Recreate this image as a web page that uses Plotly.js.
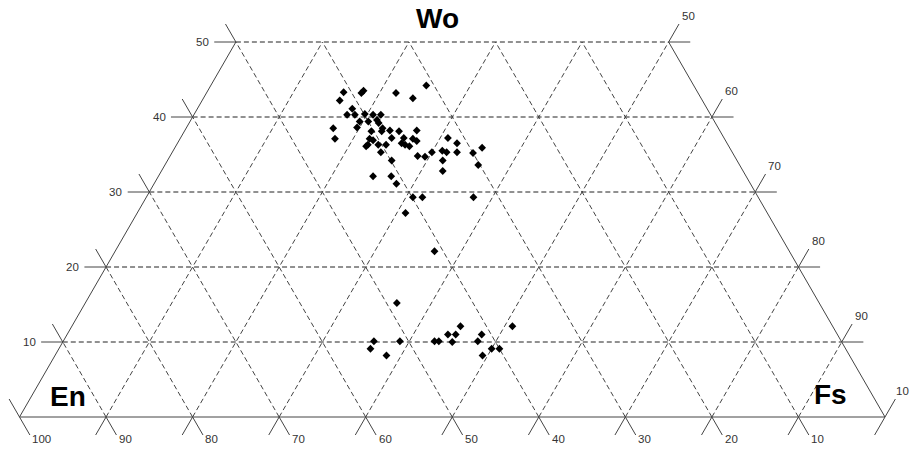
<!DOCTYPE html>
<html>
<head>
<meta charset="utf-8">
<script src="https://cdn.plot.ly/plotly-3.0.1.min.js"></script>
<style>html,body{margin:0;padding:0;background:#fff;}#chart{width:910px;height:451px;}</style>
</head>
<body>
<div id="chart"></div>
<script>
// Pyroxene quadrilateral: Wo – En – Fs (mol %)
const wo = [43.3,43.2,43.5,43.2,42.2,41.1,40.3,40.3,40.4,40.3,40.3,39.4,39.4,39.6,39.2,38.5,38.6,38.5,38.1,38.1,38.2,38.1,37.1,37.1,36.9,37.2,37.2,36.5,36.3,36.1,36.1,36.3,36.3,36.3,35.3,34.2,32.1,32.1,31.1,44.2,42.5,38.2,37.1,36.8,34.8,34.7,35.3,37.2,36.5,35.5,35.3,35.3,34.2,32.8,35.2,35.9,33.6,29.3,29.3,29.3,27.2,22.1,15.2,10.1,9.1,8.2,10.1,10.1,10.1,11.0,11.0,12.1,10.0,10.1,11.0,9.1,9.1,8.2,12.1];
const en = [40.9,38.9,38.5,34.9,41.9,41.0,42.0,41.1,39.9,39.0,38.1,41.0,40.0,38.9,38.9,44.5,41.7,38.8,40.3,39.1,38.1,37.1,45.0,41.0,40.7,38.4,37.0,37.6,37.3,36.9,41.9,41.6,40.4,39.5,40.6,39.9,43.1,41.0,40.9,30.9,33.3,35.0,36.0,35.7,36.6,35.8,34.7,31.9,31.2,33.4,33.0,31.8,34.0,34.7,30.0,28.6,30.2,39.9,38.8,32.9,41.8,41.0,48.8,54.0,54.9,53.5,51.0,47.0,46.5,45.0,44.1,43.0,45.0,42.0,41.1,40.9,40.0,42.4,37.0];
const fs = [15.8,17.9,18.0,21.9,15.9,17.9,17.7,18.6,19.7,20.7,21.6,19.6,20.6,21.5,21.9,17.0,19.7,22.7,21.6,22.8,23.7,24.8,17.9,21.9,22.4,24.4,25.8,25.9,26.4,27.0,22.0,22.1,23.3,24.2,24.1,25.9,24.8,26.9,28.0,24.9,24.2,26.8,26.9,27.5,28.6,29.5,30.0,30.9,32.3,31.1,31.7,32.9,31.8,32.5,34.8,35.5,36.2,30.8,31.9,37.8,31.0,36.9,36.0,35.9,36.0,38.3,38.9,42.9,43.4,44.0,44.9,44.9,45.0,47.9,47.9,50.0,50.9,49.4,50.9];

const woTicks = [10,20,30,40,50];          // left labels
const enTicks = [100,90,80,70,60,50,40,30,20,10]; // bottom labels
const fsTicks = [50,60,70,80,90];          // right labels
const fsCornerLabel = "10";                // clipped corner label as in source
const axisNames = {top: "Wo", left: "En", right: "Fs"};

// ternary -> plane (x along En-Fs base 0..100, y = Wo)
function P(e, f, w) { const s = e + f + w; return [100 * (f + w / 2) / s, 100 * w / s]; }
function PX(f, w) { return [f + w / 2, w]; }

const T = 2.4;   // tick length (ternary units)
const H = 2.5;   // horizontal tick length

function seg(arrX, arrY, a, b) { arrX.push(a[0], b[0], null); arrY.push(a[1], b[1], null); }

// dashed grid
const hx = [], hy = [], dx = [], dy = [];
[10, 20, 30, 40, 50].forEach(w => seg(hx, hy, PX(0, w), PX(100 - w, w)));
[10,20,30,40,50,60,70,80,90].forEach(f => {
  const wEnd = Math.min(50, 100 - f);
  seg(dx, dy, PX(f, 0), PX(f, wEnd));
});
[10,20,30,40,50,60,70,80,90].forEach(e => {
  const wEnd = Math.min(50, 100 - e);
  seg(dx, dy, PX(100 - e, 0), PX(100 - e - wEnd, wEnd));
});

// solid frame + ticks
const ex = [], ey = [];
seg(ex, ey, PX(0, 0), PX(100, 0));
seg(ex, ey, PX(0, 0), PX(0, 50));
seg(ex, ey, PX(100, 0), PX(50, 50));
[90,80,70,60,50,40,30,20,10].forEach(e => {
  const f = 100 - e;
  seg(ex, ey, PX(f, 0), PX(f, -T));
  seg(ex, ey, PX(f, 0), PX(f + T, -T));
});
seg(ex, ey, PX(-T, T), PX(T, -T));
seg(ex, ey, PX(100, -T), PX(100, T));
woTicks.forEach(w => {
  const p = PX(0, w);
  seg(ex, ey, [p[0] - H, w], p);
  seg(ex, ey, p, PX(-T, w + T));
});
woTicks.forEach(w => {
  const p = PX(100 - w, w);
  seg(ex, ey, p, [p[0] + H, w]);
  seg(ex, ey, p, PX(100 - w, w + T));
});

const px = [], py = [];
for (let i = 0; i < wo.length; i++) { const q = P(en[i], fs[i], wo[i]); px.push(q[0]); py.push(q[1]); }

const traces = [
  {x: hx, y: hy, mode: 'lines', line: {color: '#222', width: 1, dash: '5px,3px'}, hoverinfo: 'skip'},
  {x: dx, y: dy, mode: 'lines', line: {color: '#444', width: 1, dash: '5px,3px'}, hoverinfo: 'skip'},
  {x: ex, y: ey, mode: 'lines', line: {color: '#444', width: 1}, hoverinfo: 'skip'},
  {x: px, y: py, mode: 'markers', marker: {symbol: 'diamond', size: 6, color: '#000'}, hoverinfo: 'skip'}
];

const lblFont = {family: 'Liberation Sans, Arial, sans-serif', size: 11.5, color: '#333'};
const ann = [];
enTicks.forEach(e => {
  const end = PX(100 - e + T, -T);
  ann.push({x: end[0] + 0.05, y: -T - 0.55, text: String(e), xanchor: 'left', yanchor: 'middle', showarrow: false, font: lblFont});
});
woTicks.forEach(w => {
  const p = PX(0, w);
  ann.push({x: p[0] - H - 0.4, y: w, text: String(w), xanchor: 'right', yanchor: 'middle', showarrow: false, font: lblFont});
});
fsTicks.forEach(f => {
  const w = 100 - f;
  const end = PX(100 - w, w + T);
  ann.push({x: end[0] + 0.1, y: w + T + 1.1, text: String(f), xanchor: 'left', yanchor: 'middle', showarrow: false, font: lblFont});
});
{
  const end = PX(100, T);
  ann.push({x: end[0] - 0.15, y: T + 1.1, text: fsCornerLabel, xanchor: 'left', yanchor: 'middle', showarrow: false, font: lblFont});
}
const nameFont = {family: 'Liberation Sans, Arial, sans-serif', size: 28, color: '#000'};
ann.push({x: 48.3, y: 53.2, text: '<b>' + axisNames.top + '</b>', xanchor: 'center', yanchor: 'middle', showarrow: false, font: nameFont});
ann.push({x: 3.35, y: 2.73, text: '<b>' + axisNames.left + '</b>', xanchor: 'left', yanchor: 'middle', showarrow: false, font: nameFont});
ann.push({x: 91.6, y: 3.0, text: '<b>' + axisNames.right + '</b>', xanchor: 'left', yanchor: 'middle', showarrow: false, font: nameFont});

const layout = {
  width: 910, height: 451,
  margin: {l: 0, r: 0, t: 0, b: 0},
  paper_bgcolor: '#fff', plot_bgcolor: '#fff',
  showlegend: false, hovermode: false,
  xaxis: {range: [-19.5 / 8.655, (910 - 19.5) / 8.655], visible: false, fixedrange: true},
  yaxis: {range: [(417 - 451) / 7.5, 417 / 7.5], visible: false, fixedrange: true},
  annotations: ann
};
Plotly.newPlot('chart', traces, layout, {staticPlot: true, displayModeBar: false});
</script>
</body>
</html>
